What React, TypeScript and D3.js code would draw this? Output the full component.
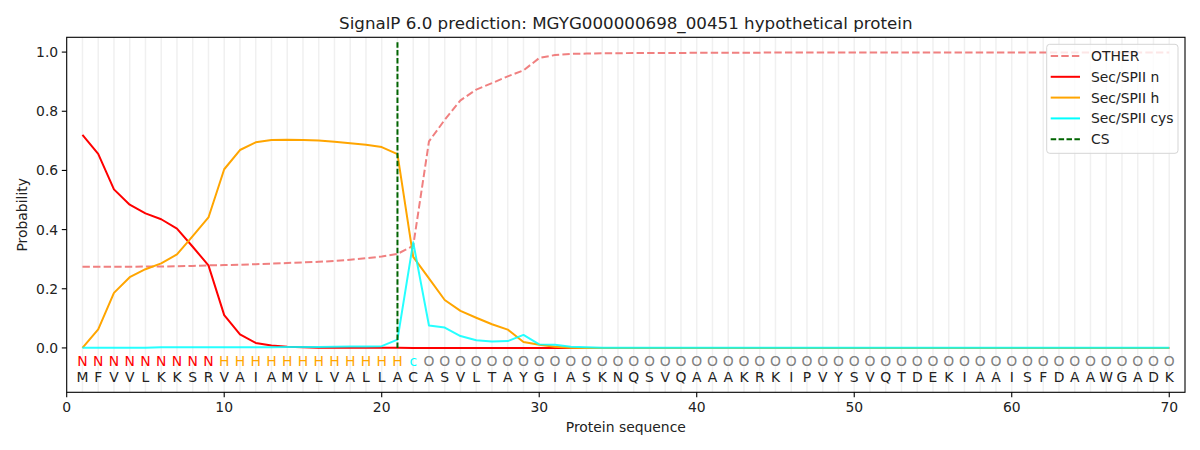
import React from 'react'
import { scaleLinear, line } from 'd3'

const title = 'SignalP 6.0 prediction: MGYG000000698_00451 hypothetical protein'

const residues = 'MFVVLKKSRVAIAMVLVALLACASVLTAYGIASKNQSVQAAAKRKIPVYSVQTDEKIAAISFDAAWGADK'.split('')
const states = 'NNNNNNNNNHHHHHHHHHHHHcOOOOOOOOOOOOOOOOOOOOOOOOOOOOOOOOOOOOOOOOOOOOOOOO'.split('')

const otherProb = [
  0.274, 0.274, 0.274, 0.274, 0.275, 0.275, 0.276, 0.277, 0.279, 0.280,
  0.281, 0.283, 0.285, 0.287, 0.289, 0.291, 0.294, 0.298, 0.303, 0.309,
  0.318, 0.345, 0.698, 0.771, 0.837, 0.873, 0.895, 0.918, 0.938, 0.980,
  0.990, 0.994, 0.995, 0.996, 0.996, 0.997, 0.997, 0.997, 0.997, 0.998,
  0.998, 0.998, 0.998, 0.998, 0.999, 0.999, 0.999, 0.999, 0.999, 0.999,
  0.999, 0.999, 0.999, 0.999, 0.999, 0.999, 0.999, 0.999, 0.999, 0.999,
  0.999, 0.999, 0.999, 0.999, 0.999, 0.999, 0.999, 0.999, 0.999, 0.999,
]
const nProb = [
  0.720, 0.656, 0.536, 0.484, 0.455, 0.435, 0.403, 0.342, 0.279, 0.111,
  0.046, 0.017, 0.008, 0.004, 0.002, 0.001, 0.001, 0.001, 0.001, 0.001,
  0.001, 0, 0, 0, 0, 0, 0, 0, 0, 0,
  0, 0, 0, 0, 0, 0, 0, 0, 0, 0,
  0, 0, 0, 0, 0, 0, 0, 0, 0, 0,
  0, 0, 0, 0, 0, 0, 0, 0, 0, 0,
  0, 0, 0, 0, 0, 0, 0, 0, 0, 0,
]
const hProb = [
  0.000, 0.063, 0.186, 0.239, 0.266, 0.286, 0.316, 0.378, 0.441, 0.604,
  0.669, 0.695, 0.703, 0.704, 0.703, 0.701, 0.697, 0.692, 0.687, 0.679,
  0.655, 0.308, 0.235, 0.162, 0.125, 0.102, 0.080, 0.062, 0.020, 0.011,
  0.004, 0.001, 0, 0, 0, 0, 0, 0, 0, 0,
  0, 0, 0, 0, 0, 0, 0, 0, 0, 0,
  0, 0, 0, 0, 0, 0, 0, 0, 0, 0,
  0, 0, 0, 0, 0, 0, 0, 0, 0, 0,
]
const cysProb = [
  0.001, 0.001, 0.001, 0.001, 0.001, 0.002, 0.002, 0.002, 0.002, 0.002,
  0.002, 0.002, 0.002, 0.003, 0.003, 0.003, 0.004, 0.005, 0.005, 0.006,
  0.028, 0.357, 0.076, 0.069, 0.040, 0.026, 0.022, 0.023, 0.044, 0.012,
  0.011, 0.004, 0.002, 0.001, 0.001, 0.001, 0.001, 0.001, 0.001, 0.001,
  0.001, 0.001, 0.001, 0.001, 0.001, 0.001, 0.001, 0.001, 0.001, 0.001,
  0.001, 0.001, 0.001, 0.001, 0.001, 0.001, 0.001, 0.001, 0.001, 0.001,
  0.001, 0.001, 0.001, 0.001, 0.001, 0.001, 0.001, 0.001, 0.001, 0.001,
]
const csPosition = 21

const xTicks = [0, 10, 20, 30, 40, 50, 60, 70]
const yTicks = [0, 0.2, 0.4, 0.6, 0.8, 1.0]

const stateColor = { N: 'red', H: 'orange', c: 'cyan', O: 'grey' }

const series = [
  { name: 'OTHER', values: otherProb, color: '#f08080', dash: '7.4,3.2', opacity: 1 },
  { name: 'Sec/SPII n', values: nProb, color: 'red', dash: undefined, opacity: 1 },
  { name: 'Sec/SPII h', values: hProb, color: 'orange', dash: undefined, opacity: 1 },
  { name: 'Sec/SPII cys', values: cysProb, color: 'cyan', dash: undefined, opacity: 0.85 },
]

const W = 1200
const H = 450
const m = { left: 66.7, right: 1185, top: 37.3, bottom: 392.3 }
const font = 'DejaVu Sans, sans-serif'

export default function App() {
  const x = scaleLinear().domain([0, 71]).range([m.left, m.right])
  const y = scaleLinear().domain([-0.15, 1.05]).range([m.bottom, m.top])
  const positions = residues.map((_, i) => i + 1)

  const mkLine = (vals: number[]) =>
    line<number>()
      .x((_, i) => x(i + 1))
      .y(d => y(d))(vals) ?? ''

  const legendItems = [
    ...series.map(s => ({ name: s.name, color: s.color, dash: s.dash })),
    { name: 'CS', color: 'darkgreen', dash: '5.5,2.4' },
  ]
  const lgX = 1046.7
  const lgY = 44.3

  return (
    <>
      <style>{'body{margin:0}'}</style>
      <svg width={W} height={H} style={{ display: 'block', background: 'white' }} fontFamily={font}>
        <defs>
          <clipPath id='plot'>
            <rect x={m.left} y={m.top} width={m.right - m.left} height={m.bottom - m.top} />
          </clipPath>
        </defs>

        {/* vertical guide lines, one per residue */}
        {positions.map(p => (
          <line key={'g' + p} x1={x(p)} x2={x(p)} y1={m.top} y2={m.bottom} stroke='#f0f0f0' strokeWidth={1.5} />
        ))}

        <g clipPath='url(#plot)'>
          {series.map(s => (
            <path key={s.name} d={mkLine(s.values)} fill='none' stroke={s.color} strokeOpacity={s.opacity}
              strokeWidth={2} strokeDasharray={s.dash} strokeLinejoin='round' />
          ))}
          <line x1={x(csPosition)} x2={x(csPosition)} y1={y(0)} y2={y(1.04)}
            stroke='darkgreen' strokeWidth={2} strokeDasharray='5.5,2.4' />
        </g>

        {/* residue + state letters */}
        {positions.map((p, i) => (
          <g key={'t' + p} fontSize={13.9} textAnchor='middle'>
            <text x={x(p)} y={366} fill={stateColor[states[i]]}>{states[i]}</text>
            <text x={x(p)} y={382} fill='#222'>{residues[i]}</text>
          </g>
        ))}

        {/* frame */}
        <rect x={m.left} y={m.top} width={m.right - m.left} height={m.bottom - m.top}
          fill='none' stroke='black' strokeWidth={1.1} />

        {/* x axis */}
        {xTicks.map(t => (
          <g key={'x' + t}>
            <line x1={x(t)} x2={x(t)} y1={m.bottom} y2={m.bottom + 4.9} stroke='black' strokeWidth={1.1} />
            <text x={x(t)} y={411.7} fontSize={13.9} textAnchor='middle' fill='#222'>{t}</text>
          </g>
        ))}
        <text x={(m.left + m.right) / 2} y={432.3} fontSize={13.9} textAnchor='middle' fill='#222'>Protein sequence</text>

        {/* y axis */}
        {yTicks.map(t => (
          <g key={'y' + t}>
            <line x1={m.left - 4.9} x2={m.left} y1={y(t)} y2={y(t)} stroke='black' strokeWidth={1.1} />
            <text x={m.left - 8.5} y={y(t) + 5} fontSize={13.9} textAnchor='end' fill='#222'>{t.toFixed(1)}</text>
          </g>
        ))}
        <text transform={`translate(27,${(m.top + m.bottom) / 2}) rotate(-90)`} fontSize={13.9}
          textAnchor='middle' fill='#222'>Probability</text>

        <text x={(m.left + m.right) / 2} y={29.3} fontSize={16.7} textAnchor='middle' fill='#222'>{title}</text>

        {/* legend */}
        <rect x={lgX} y={lgY} width={131.3} height={109} rx={3} fill='white' fillOpacity={0.8}
          stroke='#d5d5d5' strokeWidth={1} />
        {legendItems.map((it, i) => (
          <g key={it.name} transform={`translate(0,${56 + i * 20.8})`}>
            <line x1={1050.7} x2={1080} y1={0} y2={0} stroke={it.color} strokeWidth={2} strokeDasharray={it.dash} />
            <text x={1091} y={5} fontSize={13.9} fill='#222'>{it.name}</text>
          </g>
        ))}
      </svg>
    </>
  )
}
